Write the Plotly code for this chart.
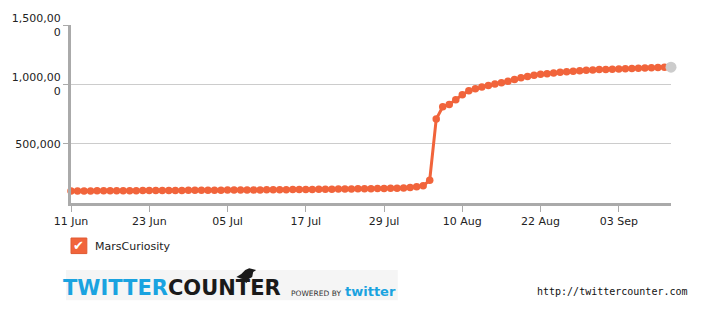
import pandas as pd
import plotly.graph_objects as go

# ---- data ----
start_date = "2012-06-11"
followers = [
    101000, 101300, 101600, 101900, 102200, 102500, 102800, 103100, 103400, 103700,
    104000, 104300, 104600, 104900, 105200, 105500, 105800, 106100, 106400, 106700,
    107000, 107300, 107700, 108100, 108500, 108900, 109300, 109700, 110100, 110500,
    111000, 111500, 112000, 112500, 113000, 113500, 114000, 114600, 115200, 115800,
    116400, 117000, 117700, 118400, 119100, 119800, 120600, 121400, 122300, 123300,
    124500, 127000, 131000, 136000, 145000, 192000,
    707000, 811000, 830000, 871000, 912000, 945000, 962000, 978000, 990000, 1002000,
    1014000, 1027000, 1040000, 1055000, 1066000, 1076000, 1084000, 1090000, 1096000, 1101000,
    1106000, 1111000, 1115000, 1118000, 1121000, 1124000, 1126000, 1128000, 1130000, 1132000,
    1134000, 1136000, 1138000, 1140000, 1142000, 1144000,
]
latest_date = "2012-09-11"
latest_value = 1145000

x_tickvals = ["2012-06-11", "2012-06-23", "2012-07-05", "2012-07-17",
              "2012-07-29", "2012-08-10", "2012-08-22", "2012-09-03"]
x_ticktext = ["11 Jun", "23 Jun", "05 Jul", "17 Jul", "29 Jul", "10 Aug", "22 Aug", "03 Sep"]
y_tickvals = [500000, 1000000, 1500000]
y_ticktext = ["500,000", "1,000,00<br>0", "1,500,00<br>0"]
series_name = "MarsCuriosity"

dates = pd.date_range(start_date, periods=len(followers), freq="D")

# ---- layout geometry ----
W, H = 710, 315
L, R, T, B = 65, 39, 20, 112
PW, PH = W - L - R, H - T - B

def px(x):
    return (x - L) / PW

def py(y):
    return (H - B - y) / PH

ORANGE = "#f1643b"
BLUE = "#1aa3e0"
FONT = "DejaVu Sans"

fig = go.Figure()
fig.add_trace(go.Scatter(
    x=dates, y=followers, mode="lines+markers",
    line=dict(color=ORANGE, width=3),
    marker=dict(color=ORANGE, size=7.5),
    cliponaxis=False, showlegend=False, hoverinfo="x+y",
))
fig.add_trace(go.Scatter(
    x=[latest_date], y=[latest_value], mode="markers",
    marker=dict(color="#cccccc", size=11),
    cliponaxis=False, showlegend=False,
))

shapes = [
    # logo background
    dict(type="rect", xref="paper", yref="paper", x0=px(60), x1=px(395), y0=py(303), y1=py(272),
         fillcolor="#f5f5f5", line=dict(width=0), layer="below"),
    # checkbox
    dict(type="rect", xref="paper", yref="paper", x0=px(65), x1=px(81), y0=py(255), y1=py(239),
         fillcolor=ORANGE, line=dict(color="#e05a32", width=1)),
    # bird
    dict(type="path", xref="paper", yref="paper",
         path=(f"M {px(232)},{py(279)} L {px(237)},{py(276)} L {px(241)},{py(272)} "
               f"L {px(245)},{py(270)} L {px(249)},{py(271)} L {px(252)},{py(272)} "
               f"L {px(249)},{py(274)} L {px(248)},{py(279)} L {px(243)},{py(282)} "
               f"L {px(237)},{py(281)} Z"),
         fillcolor="#1a1a1a", line=dict(width=0)),
    dict(type="line", xref="paper", yref="paper", x0=px(242), x1=px(242), y0=py(282), y1=py(285),
         line=dict(color="#1a1a1a", width=1.5)),
]

annotations = [
    dict(text="✔", x=px(73), y=py(247), xref="paper", yref="paper", showarrow=False,
         font=dict(family=FONT, size=13, color="white"), xanchor="center", yanchor="middle"),
    dict(text=series_name, x=px(87), y=py(248), xref="paper", yref="paper", showarrow=False,
         font=dict(family=FONT, size=11, color="#222"), xanchor="left", yanchor="middle"),
    dict(text=f"<b><span style='color:{BLUE}'>TWITTER</span>COUNTER</b>",
         x=px(55), y=py(290), xref="paper", yref="paper", showarrow=False,
         font=dict(family=FONT, size=21, color="#1a1a1a"), xanchor="left", yanchor="middle"),
    dict(text="POWERED BY", x=px(285), y=py(296), xref="paper", yref="paper", showarrow=False,
         font=dict(family=FONT, size=7.5, color="#333"), xanchor="left", yanchor="middle"),
    dict(text="<b>twitter</b>", x=px(340), y=py(294), xref="paper", yref="paper", showarrow=False,
         font=dict(family=FONT, size=13, color=BLUE), xanchor="left", yanchor="middle"),
    dict(text="http://twittercounter.com", x=px(534), y=py(294), xref="paper", yref="paper",
         showarrow=False, font=dict(family="DejaVu Sans Mono", size=10, color="#111"),
         xanchor="left", yanchor="middle"),
]

fig.update_layout(
    width=W, height=H,
    margin=dict(l=L, r=R, t=T, b=B, pad=0),
    paper_bgcolor="white", plot_bgcolor="white",
    font=dict(family=FONT, size=11, color="#222"),
    shapes=shapes, annotations=annotations,
    xaxis=dict(
        type="date", range=[start_date, latest_date],
        tickvals=x_tickvals, ticktext=x_ticktext,
        showgrid=False, zeroline=False,
        showline=True, linecolor="#aaaaaa", linewidth=3,
        ticks="outside", ticklen=6, tickcolor="#aaaaaa", tickwidth=1,
        tickfont=dict(family=FONT, size=11, color="#222"),
    ),
    yaxis=dict(
        range=[0, 1500000],
        tickvals=y_tickvals, ticktext=y_ticktext,
        showgrid=True, gridcolor="#cccccc", gridwidth=1, zeroline=False,
        showline=True, linecolor="#aaaaaa", linewidth=3,
        ticks="outside", ticklen=5, tickcolor="#aaaaaa", tickwidth=1,
        tickfont=dict(family=FONT, size=11, color="#222"),
    ),
)

fig.write_html("out.html")
